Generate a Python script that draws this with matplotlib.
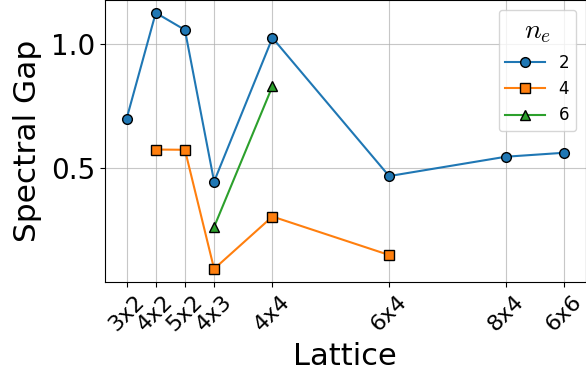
import matplotlib
matplotlib.use("Agg")
import matplotlib.pyplot as plt

plt.rcParams["mathtext.fontset"] = "cm"

# Lattice sizes (number of sites) and their labels
lattices = ["3x2", "4x2", "5x2", "4x3", "4x4", "6x4", "8x4", "6x6"]
sites = [6, 8, 10, 12, 16, 24, 32, 36]

# Spectral gap for each electron number
sites_ne2 = [6, 8, 10, 12, 16, 24, 32, 36]
gap_ne2 = [0.698, 1.125, 1.056, 0.445, 1.024, 0.467, 0.545, 0.561]

sites_ne4 = [8, 10, 12, 16, 24]
gap_ne4 = [0.574, 0.573, 0.093, 0.304, 0.149]

sites_ne6 = [12, 16]
gap_ne6 = [0.262, 0.829]

fig = plt.figure(figsize=(5.86, 3.83), dpi=100)
ax = fig.add_axes([0.1787, 0.2645, 0.8213, 0.7355])

mk = dict(markeredgecolor="black", markersize=7, linewidth=1.5)
ax.plot(sites_ne2, gap_ne2, "o-", color="C0", label="2", **mk)
ax.plot(sites_ne4, gap_ne4, "s-", color="C1", label="4", **mk)
ax.plot(sites_ne6, gap_ne6, "^-", color="C2", label="6", **mk)

ax.set_xticks(sites)
ax.set_xticklabels(lattices, rotation=45, ha="center", fontsize=16)
ax.set_yticks([0.5, 1.0])
ax.tick_params(axis="y", labelsize=20)
ax.grid(True, color="#b0b0b0", alpha=0.7)
ax.set_axisbelow(True)

ax.set_xlabel("Lattice", fontsize=22, labelpad=5)
ax.set_ylabel("Spectral Gap", fontsize=22.5, labelpad=6)

leg = ax.legend(title=r"$n_e$", fontsize=12, title_fontsize=20,
                loc="upper right", borderaxespad=0.6, handlelength=2.4)

fig.savefig("out.png", dpi=100)
